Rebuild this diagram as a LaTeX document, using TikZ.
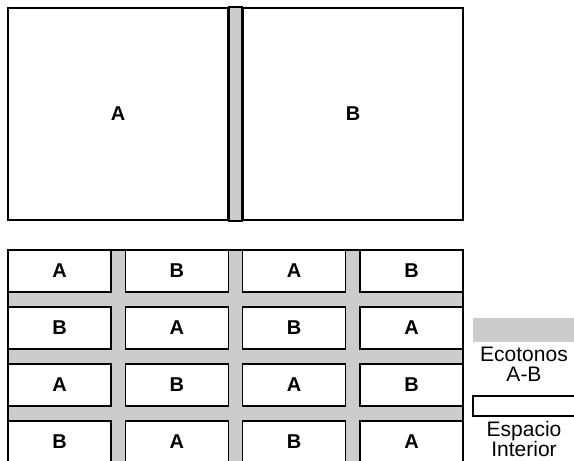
\documentclass[tikz,border=0pt]{standalone}
\usepackage{fontspec}
\setmainfont{Liberation Sans}
\usepackage{tikz}
\usetikzlibrary{positioning}
\definecolor{ecoGray}{RGB}{204,204,204}
\tikzstyle{cellBox} = [draw, line width=1.6pt, fill=white, rectangle, inner sep=0,
font=\fontsize{20}{22}\selectfont\bfseries]
\tikzstyle{ecoFill} = [draw, line width=1.6pt, fill=ecoGray]
\tikzstyle{legendText} = [inner sep=0, anchor=north, align=center, font=\fontsize{21}{20}\selectfont]

\begin{document}
\begin{tikzpicture}[x=1pt, y=-1pt]
		\useasboundingbox (0,0) rectangle (574,461);
		\clip (0,0) rectangle (574,461);
		
		% oben: zwei Flaechen mit Ecoton
		\node[cellBox, minimum width=220pt, minimum height=212pt] (bigA) at (118,114) {A};
		\node[cellBox, minimum width=220pt, minimum height=212pt] (bigB) at (353,114) {B};
		\draw[ecoFill] (bigA.north east) rectangle (bigB.south west);		% Ecoton A-B
		
		% unten: Mosaik
		\draw[ecoFill] (8,250) rectangle (463,480);
		\foreach \r in {1,...,4}{
			\foreach \c in {1,...,4}{
				\pgfmathparse{int(mod(\r+\c,2))}
				\ifnum\pgfmathresult=0 \def\lab{A}\else \def\lab{B}\fi
				\node[cellBox, minimum width=103pt, minimum height=42pt] (cell-\r-\c) at ({59.5+(\c-1)*117.33},{271+(\r-1)*57}) {\lab};
			}
		}
		
		% Legende
		\fill[ecoGray] (473,318) rectangle (590,342);	% Ecotonos
		\node[legendText] (ecoLabel) at (524,347) {Ecotonos\\A-B};
		\draw[line width=1.6pt, fill=white] (473,396) rectangle (590,416);	% Espacio Interior
		\node[legendText] (interiorLabel) at (524,421) {Espacio\\Interior};
\end{tikzpicture}
\end{document}
